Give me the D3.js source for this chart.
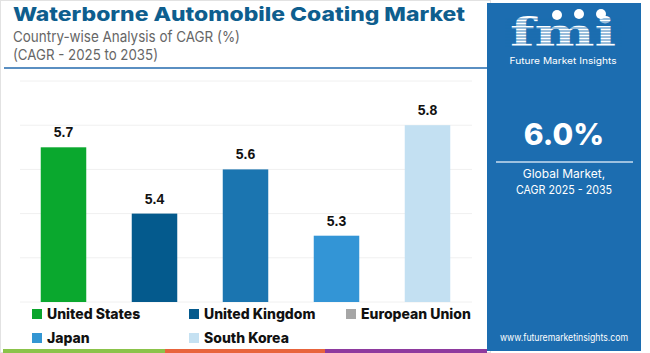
<!DOCTYPE html>
<html>
<head>
<meta charset="utf-8">
<script src="https://cdn.jsdelivr.net/npm/d3@7"></script>
<style>
  body { margin: 0; background: #fff; }
  svg { display: block; font-family: "Inter", "Open Sans", sans-serif; }
</style>
</head>
<body>
<svg width="650" height="353"></svg>
<script>
// data
const countries = ["United States", "United Kingdom", "European Union", "Japan", "South Korea"];
const cagr = [5.7, 5.4, 5.6, 5.3, 5.8];
const barColors = ["#0aa82e", "#045a8d", "#1b75b0", "#3395d6", "#c3e0f2"];
const legendColors = ["#0aa52c", "#045a8d", "#a6a6a6", "#3396d3", "#c5e1f2"];
const gridTicks = [5.0, 5.2, 5.4, 5.6, 5.8, 6.0];
const globalCagr = "6.0%";

const svg = d3.select("svg");

// outer frame + title
svg.append("rect").attr("x", 0.5).attr("y", 0.5).attr("width", 490).attr("height", 352)
   .attr("fill", "none").attr("stroke", "#e2e2e2");

svg.append("text").attr("x", 13).attr("y", 21)
   .attr("font-size", 19).attr("font-weight", 800).attr("fill", "#0e5e8e")
   .attr("textLength", 452).attr("lengthAdjust", "spacingAndGlyphs")
   .text("Waterborne Automobile Coating Market");
svg.append("text").attr("x", 13).attr("y", 42)
   .attr("font-size", 15).attr("fill", "#666")
   .attr("textLength", 227).attr("lengthAdjust", "spacingAndGlyphs")
   .text("Country-wise Analysis of CAGR (%)");
svg.append("text").attr("x", 13).attr("y", 60)
   .attr("font-size", 15).attr("fill", "#666")
   .attr("textLength", 145).attr("lengthAdjust", "spacingAndGlyphs")
   .text("(CAGR - 2025 to 2035)");
svg.append("line").attr("x1", 4).attr("x2", 487).attr("y1", 68).attr("y2", 68)
   .attr("stroke", "#5a8fc2").attr("stroke-width", 2);

// scales
const x = d3.scaleBand().domain(countries).range([18, 473]).paddingInner(0.5).paddingOuter(0.25);
const y = d3.scaleLinear().domain([5.0, 6.0]).range([302, 81]);

// grid
svg.append("g").selectAll("line").data(gridTicks).join("line")
   .attr("x1", 20).attr("x2", 472)
   .attr("y1", d => y(d)).attr("y2", d => y(d))
   .attr("stroke", "#f0f0f0").attr("stroke-width", 1);

// bars
svg.append("g").selectAll("rect").data(countries).join("rect")
   .attr("x", d => x(d)).attr("width", x.bandwidth())
   .attr("y", (d, i) => y(cagr[i])).attr("height", (d, i) => y(5.0) - y(cagr[i]))
   .attr("fill", (d, i) => barColors[i]);

svg.append("g").selectAll("text").data(countries).join("text")
   .attr("x", d => x(d) + x.bandwidth() / 2)
   .attr("y", (d, i) => y(cagr[i]) - 10)
   .attr("text-anchor", "middle")
   .attr("font-family", "Liberation Sans, Arial, sans-serif")
   .attr("font-size", 14).attr("font-weight", "bold").attr("fill", "#111")
   .text((d, i) => cagr[i].toFixed(1));

// legend
const legendPos = [[32, 309], [189, 309], [346, 309], [32, 333], [189, 333]];
const lg = svg.append("g").selectAll("g").data(countries).join("g")
   .attr("transform", (d, i) => `translate(${legendPos[i][0]},${legendPos[i][1]})`);
lg.append("rect").attr("width", 10).attr("height", 10).attr("fill", (d, i) => legendColors[i]);
lg.append("text").attr("x", 15).attr("y", 9.5)
   .attr("font-size", 14).attr("font-weight", 800).attr("fill", "#111")
   .text(d => d);

// bottom strip
const strip = [["#8bc34a", 3, 165], ["#e8643c", 165, 325], ["#8e3a9e", 325, 487]];
svg.append("g").selectAll("rect").data(strip).join("rect")
   .attr("x", d => d[1]).attr("width", d => d[2] - d[1])
   .attr("y", 349).attr("height", 4).attr("fill", d => d[0]);

// right panel
const panelColor = "#1c6db0";
svg.append("rect").attr("x", 487).attr("y", 3).attr("width", 154).attr("height", 348)
   .attr("fill", panelColor);

const logo = svg.append("g");
logo.append("text").attr("x", 563).attr("y", 46).attr("text-anchor", "middle")
   .attr("font-family", "DejaVu Serif, serif").attr("font-size", 40).attr("font-weight", "bold")
   .attr("fill", "#fff").attr("textLength", 106).attr("lengthAdjust", "spacingAndGlyphs")
   .text("fmi");
// stripes across the logo letters
logo.append("g").selectAll("line").data(d3.range(19, 47, 3)).join("line")
   .attr("x1", 505).attr("x2", 622).attr("y1", d => d).attr("y2", d => d)
   .attr("stroke", panelColor).attr("stroke-width", 0.9);
logo.append("g").selectAll("circle").data([[557, 15], [579, 14], [601, 14]]).join("circle")
   .attr("cx", d => d[0]).attr("cy", d => d[1]).attr("r", 5).attr("fill", "#fff");
logo.append("text").attr("x", 563).attr("y", 64).attr("text-anchor", "middle")
   .attr("font-size", 9).attr("fill", "#fff")
   .attr("textLength", 107).attr("lengthAdjust", "spacingAndGlyphs")
   .text("Future Market Insights");

svg.append("text").attr("x", 564).attr("y", 145).attr("text-anchor", "middle")
   .attr("font-size", 30).attr("font-weight", 800).attr("fill", "#fff")
   .text(globalCagr);
svg.append("line").attr("x1", 496).attr("x2", 633).attr("y1", 162).attr("y2", 162)
   .attr("stroke", "#c9def0").attr("stroke-width", 1.5);
svg.append("text").attr("x", 564).attr("y", 178).attr("text-anchor", "middle")
   .attr("font-size", 12).attr("fill", "#fff").text("Global Market,");
svg.append("text").attr("x", 564).attr("y", 194).attr("text-anchor", "middle")
   .attr("font-size", 12).attr("fill", "#fff")
   .attr("textLength", 96).attr("lengthAdjust", "spacingAndGlyphs")
   .text("CAGR 2025 - 2035");
svg.append("text").attr("x", 564).attr("y", 341).attr("text-anchor", "middle")
   .attr("font-size", 10).attr("fill", "#fff")
   .attr("textLength", 128).attr("lengthAdjust", "spacingAndGlyphs")
   .text("www.futuremarketinsights.com");
</script>
</body>
</html>
